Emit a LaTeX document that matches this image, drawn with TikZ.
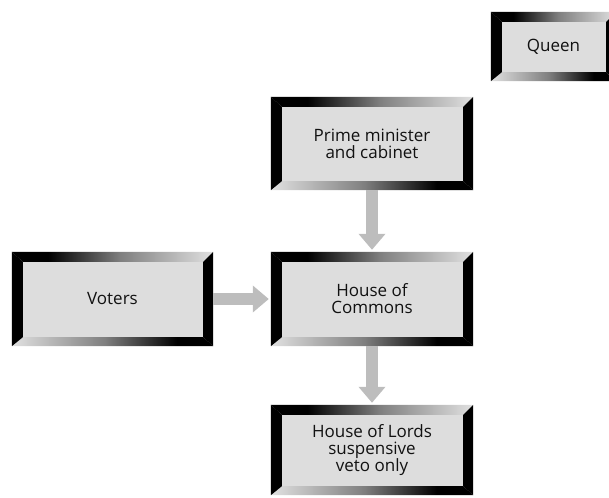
\documentclass[tikz,border=0pt]{standalone}
\usepackage{fontspec}
\setmainfont{Open Sans}
\usetikzlibrary{calc,arrows.meta}

\definecolor{panel}{HTML}{DDDDDD}
\definecolor{flow}{HTML}{BDBDBD}
\definecolor{ink}{HTML}{111111}

% bevel bands: dark on the left, fading to light on the right (and reverse);
% only the 25bp--75bp stretch of a shading covers the shaded path
\pgfdeclarehorizontalshading{darktolight}{100bp}{%
  rgb(0bp)=(0,0,0); rgb(34bp)=(0,0,0); rgb(52bp)=(0.5,0.5,0.5);
  rgb(75bp)=(0.88,0.88,0.88); rgb(100bp)=(0.88,0.88,0.88)}
\pgfdeclarehorizontalshading{lighttodark}{100bp}{%
  rgb(0bp)=(0.88,0.88,0.88); rgb(25bp)=(0.88,0.88,0.88); rgb(48bp)=(0.5,0.5,0.5);
  rgb(66bp)=(0,0,0); rgb(100bp)=(0,0,0)}

\tikzset{
  bevelbox/.style={rectangle, inner sep=0pt, fill=panel, text=ink,
    align=center, font=\fontsize{17}{17}\selectfont},
  flowarrow/.style={draw=flow, line width=12pt,
    -{Triangle[width=26pt,length=16pt]}, shorten >=2pt},
}

% draws the four mitred bands of a framed node
\newcommand{\bevelframe}[1]{%
  \coordinate (oTL) at (#1.north west);
  \coordinate (oTR) at (#1.north east);
  \coordinate (oBL) at (#1.south west);
  \coordinate (oBR) at (#1.south east);
  \coordinate (iTL) at ($(oTL)+(11,10)$);
  \coordinate (iTR) at ($(oTR)+(-10,10)$);
  \coordinate (iBL) at ($(oBL)+(11,-9)$);
  \coordinate (iBR) at ($(oBR)+(-10,-9)$);
  \begin{scope}
    \clip (oTL) -- (oTR) -- (iTR) -- (iTL) -- cycle;
    \shade[shading=darktolight] ($(oTL)+(0,-4)$) rectangle ($(iTR)+(10,4)$);
  \end{scope}
  \begin{scope}
    \clip (oBL) -- (oBR) -- (iBR) -- (iBL) -- cycle;
    \shade[shading=lighttodark] ($(iBL)+(-11,-4)$) rectangle ($(oBR)+(0,4)$);
  \end{scope}
  \fill[black] (oTL) -- (iTL) -- (iBL) -- (oBL) -- cycle;
  \fill[black] (oTR) -- (iTR) -- (iBR) -- (oBR) -- cycle;
}

\begin{document}
\begin{tikzpicture}[x=1pt,y=-1pt]
  \useasboundingbox (0,0) rectangle (609,497);

  \node[bevelbox, minimum width=125pt, minimum height=69pt] (queen) at (553.5,46.5) {Queen};
  \node[bevelbox, minimum width=202pt, minimum height=93pt] (pm) at (372,143.5) {Prime minister\\and cabinet};
  \node[bevelbox, minimum width=201pt, minimum height=94pt] (voters) at (112.5,299) {Voters};
  \node[bevelbox, minimum width=202pt, minimum height=94pt] (commons) at (372,299) {House of\\Commons};
  \node[bevelbox, minimum width=202pt, minimum height=90pt] (lords) at (372,450) {House of Lords\\suspensive\\veto only};

  \foreach \n in {queen,pm,voters,commons,lords} {\bevelframe{\n}}

  \draw[flowarrow] (pm.south) -- (commons.north);
  \draw[flowarrow] (commons.south) -- (lords.north);
  \draw[flowarrow] (voters.east) -- (commons.west);
\end{tikzpicture}
\end{document}
